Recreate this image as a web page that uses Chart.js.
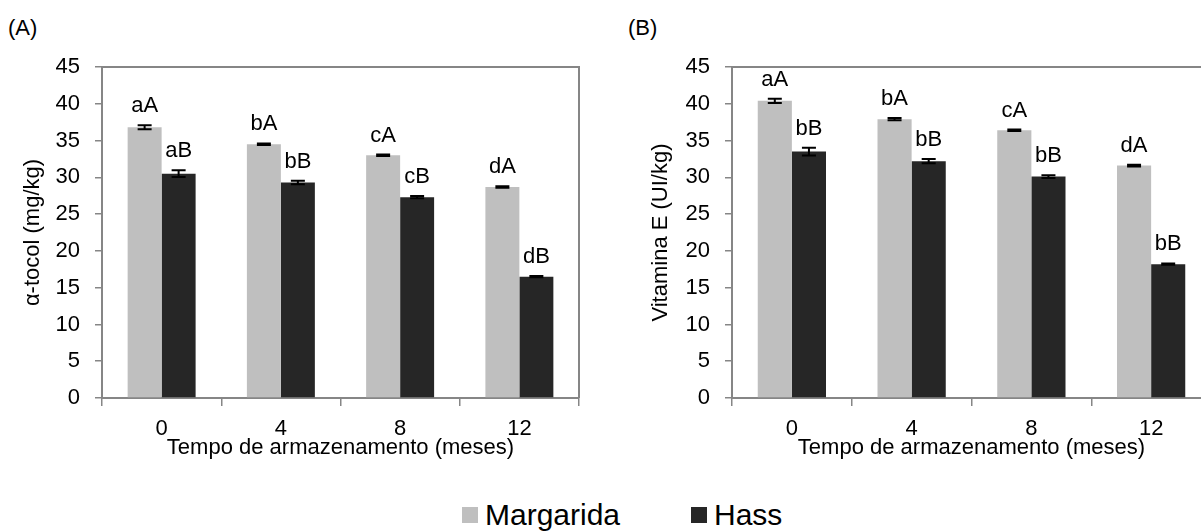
<!DOCTYPE html>
<html lang="pt">
<head>
    <meta charset="UTF-8">
    <title>Tocoferol e vitamina E - Margarida x Hass</title>
    <script src="https://cdn.jsdelivr.net/npm/chart.js"></script>
    <style>
        body { margin: 0; width: 1201px; height: 531px; overflow: hidden; background: #fff; position: relative;
               font-family: "Liberation Sans", Arial, sans-serif; color: #000; }
        canvas { position: absolute; top: 0; }
        #graficoA { left: 0; }
        #graficoB { left: 630px; }
        .painel { position: absolute; top: 14px; font-size: 22px; line-height: 28px; }
        .item { position: absolute; top: 499px; display: flex; align-items: center; font-size: 30px; line-height: 32px; }
        .quad { width: 16px; height: 16px; margin-right: 7px; }
    </style>
</head>
<body>
    <div class="painel" style="left:8px">(A)</div>
    <div class="painel" style="left:628px">(B)</div>

    <canvas id="graficoA" width="600" height="470"></canvas>
    <canvas id="graficoB" width="600" height="470"></canvas>

    <!-- legenda comum -->
    <div class="item" style="left:462px"><span class="quad" style="background:#bfbfbf"></span>Margarida</div>
    <div class="item" style="left:691px"><span class="quad" style="background:#262626"></span>Hass</div>

    <script>
// Tempo de armazenamento (meses)
const meses = ['0', '4', '8', '12'];

// (A) alfa-tocoferol (mg/kg)
const tocolMargarida = [36.8, 34.5, 33.0, 28.7];
const tocolHass = [30.5, 29.3, 27.3, 16.5];
const tocolMargaridaErro = [0.27, 0.1, 0.1, 0.1];
const tocolHassErro = [0.45, 0.25, 0.15, 0.1];
const tocolMargaridaLetras = ['aA', 'bA', 'cA', 'dA'];
const tocolHassLetras = ['aB', 'bB', 'cB', 'dB'];

// (B) vitamina E (UI/kg)
const vitMargarida = [40.4, 37.9, 36.4, 31.6];
const vitHass = [33.5, 32.2, 30.1, 18.2];
const vitMargaridaErro = [0.3, 0.15, 0.1, 0.12];
const vitHassErro = [0.52, 0.3, 0.2, 0.1];
const vitMargaridaLetras = ['aA', 'bA', 'cA', 'dA'];
const vitHassLetras = ['bB', 'bB', 'bB', 'bB'];

const cinzaEixo = '#868686';
const fonte = '"Liberation Sans", Arial, sans-serif';

Chart.defaults.font.family = fonte;
Chart.defaults.font.size = 22;
Chart.defaults.color = '#000';

// desenha barras de erro e letras de significancia
const barrasErro = {
    id: 'barrasErro',
    afterDatasetsDraw(chart) {
        const ctx = chart.ctx;
        const y = chart.scales.y;
        chart.data.datasets.forEach((ds, i) => {
            chart.getDatasetMeta(i).data.forEach((bar, j) => {
                const v = ds.data[j], e = ds.erro[j];
                const yTop = y.getPixelForValue(v + e);
                const yBot = y.getPixelForValue(v - e);
                ctx.save();
                ctx.strokeStyle = '#000';
                ctx.lineWidth = 2;
                ctx.beginPath();
                ctx.moveTo(bar.x, yTop); ctx.lineTo(bar.x, yBot);
                ctx.moveTo(bar.x - 7, yTop); ctx.lineTo(bar.x + 7, yTop);
                ctx.moveTo(bar.x - 7, yBot); ctx.lineTo(bar.x + 7, yBot);
                ctx.stroke();
                ctx.fillStyle = '#000';
                ctx.font = '22px ' + fonte;
                ctx.textAlign = 'center';
                ctx.textBaseline = 'alphabetic';
                ctx.fillText(ds.letras[j], bar.x, yTop - 13);
                ctx.restore();
            });
        });
    }
};

// borda superior e direita da area do grafico
const bordaArea = {
    id: 'bordaArea',
    afterDraw(chart) {
        const { ctx, chartArea: a } = chart;
        ctx.save();
        ctx.strokeStyle = cinzaEixo;
        ctx.lineWidth = 2;
        ctx.beginPath();
        ctx.moveTo(a.left, a.top);
        ctx.lineTo(a.right, a.top);
        ctx.lineTo(a.right, a.bottom);
        ctx.stroke();
        ctx.restore();
    }
};

function criarGrafico(id, tituloY, margarida, hass, erroM, erroH, letrasM, letrasH, padTituloY, padDireita) {
    new Chart(document.getElementById(id), {
        type: 'bar',
        data: {
            labels: meses,
            datasets: [
                { label: 'Margarida', data: margarida, erro: erroM, letras: letrasM, backgroundColor: '#bfbfbf',
                  categoryPercentage: 0.57, barPercentage: 1.0 },
                { label: 'Hass', data: hass, erro: erroH, letras: letrasH, backgroundColor: '#262626',
                  categoryPercentage: 0.57, barPercentage: 1.0 }
            ]
        },
        options: {
            responsive: false,
            animation: false,
            layout: { padding: { top: 67, right: padDireita, bottom: 0, left: 0 } },
            plugins: { legend: { display: false }, tooltip: { enabled: false } },
            scales: {
                x: {
                    grid: { display: true, offset: true, drawOnChartArea: false, tickLength: 8, color: cinzaEixo, lineWidth: 1.5 },
                    border: { color: cinzaEixo, width: 2 },
                    ticks: { padding: 10 },
                    title: { display: true, text: 'Tempo de armazenamento (meses)', padding: { top: 0, bottom: 9 } },
                    afterFit: s => { s.height = 72; }
                },
                y: {
                    min: 0, max: 45,
                    ticks: { stepSize: 5, padding: 15 },
                    grid: { drawOnChartArea: false, tickLength: 7, color: cinzaEixo, lineWidth: 1.5 },
                    border: { color: cinzaEixo, width: 2 },
                    title: { display: true, text: tituloY, padding: { top: padTituloY, bottom: 0 } },
                    afterFit: s => { s.width = 102; }
                }
            }
        },
        plugins: [barrasErro, bordaArea]
    });
}

criarGrafico('graficoA', 'α-tocol (mg/kg)', tocolMargarida, tocolHass,
    tocolMargaridaErro, tocolHassErro, tocolMargaridaLetras, tocolHassLetras, 20, 21);
criarGrafico('graficoB', 'Vitamina E (UI/kg)', vitMargarida, vitHass,
    vitMargaridaErro, vitHassErro, vitMargaridaLetras, vitHassLetras, 18, 19);
    </script>
</body>
</html>
